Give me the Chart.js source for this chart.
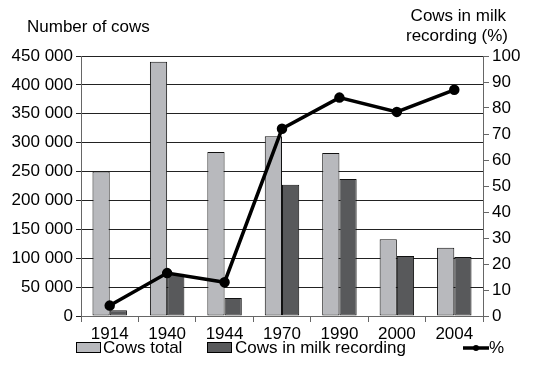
<!DOCTYPE html>
<html>
<head>
<meta charset="utf-8">
<script src="https://cdn.jsdelivr.net/npm/chart.js@4"></script>
<style>
  body { margin: 0; background: #fff; }
  #wrap { width: 545px; height: 387px; }
</style>
</head>
<body>
<div id="wrap"><canvas id="chart" width="545" height="387"></canvas></div>
<script>
// Data
const years = ['1914', '1940', '1944', '1970', '1990', '2000', '2004'];
const cowsTotal = [250000, 440000, 284000, 311000, 282000, 133000, 118000];
const cowsRecorded = [10000, 73000, 31000, 227000, 237000, 104000, 102000];
const percentRecorded = [4, 16.5, 13, 72, 84, 78.5, 87];

const FONT = 'Liberation Sans, Arial, sans-serif';
const FS = 17;

function spaced(v) {
  return String(v).replace(/\B(?=(\d{3})+(?!\d))/g, ' ');
}

// titles and legend drawn by hand
const extras = {
  id: 'extras',
  afterDraw(chart) {
    const ctx = chart.ctx;
    ctx.save();
    ctx.fillStyle = '#000';
    ctx.font = FS + 'px ' + FONT;
    ctx.textBaseline = 'middle';
    ctx.textAlign = 'left';
    ctx.fillText('Number of cows', 27, 27);
    ctx.textAlign = 'right';
    ctx.fillText('Cows in milk', 506, 16);
    ctx.fillText('recording (%)', 508, 36);

    // legend
    const ds = chart.data.datasets;
    const bar1 = ds[1], bar2 = ds[2], line = ds[0];
    const y = 348;
    ctx.textAlign = 'left';
    ctx.lineWidth = 1;
    ctx.strokeStyle = '#000';
    ctx.fillStyle = bar1.backgroundColor;
    ctx.fillRect(76.5, y - 5.5, 24, 10);
    ctx.strokeRect(76.5, y - 5.5, 24, 10);
    ctx.fillStyle = '#000';
    ctx.fillText(bar1.label, 103, y);
    ctx.fillStyle = bar2.backgroundColor;
    ctx.fillRect(207.5, y - 5.5, 24, 10);
    ctx.strokeRect(207.5, y - 5.5, 24, 10);
    ctx.fillStyle = '#000';
    ctx.fillText(bar2.label, 235, y);
    ctx.lineWidth = 3.5;
    ctx.beginPath();
    ctx.moveTo(463, y);
    ctx.lineTo(489, y);
    ctx.stroke();
    ctx.beginPath();
    ctx.arc(476, y, 3, 0, Math.PI * 2);
    ctx.fill();
    ctx.fillText(line.label, 489, y);
    ctx.restore();
  }
};

new Chart(document.getElementById('chart'), {
  data: {
    labels: years,
    datasets: [
      {
        type: 'line',
        label: '%',
        data: percentRecorded,
        yAxisID: 'yPct',
        borderColor: '#000',
        backgroundColor: '#000',
        borderWidth: 3.5,
        pointRadius: 3.5,
        pointBackgroundColor: '#000',
        tension: 0,
        order: 0
      },
      {
        type: 'bar',
        label: 'Cows total',
        data: cowsTotal,
        yAxisID: 'y',
        backgroundColor: '#b8b9bd',
        borderColor: '#111',
        borderWidth: 1,
        borderSkipped: false,
        categoryPercentage: 0.6,
        barPercentage: 1,
        order: 1
      },
      {
        type: 'bar',
        label: 'Cows in milk recording',
        data: cowsRecorded,
        yAxisID: 'y',
        backgroundColor: '#58595b',
        borderColor: '#111',
        borderWidth: 1,
        borderSkipped: false,
        categoryPercentage: 0.6,
        barPercentage: 1,
        order: 1
      }
    ]
  },
  options: {
    responsive: false,
    animation: false,
    layout: { padding: { top: 56, left: 0, right: 0, bottom: 0 } },
    plugins: {
      legend: { display: false },
      tooltip: { enabled: false }
    },
    scales: {
      x: {
        afterFit(s) { s.height = 71; },
        grid: { offset: true, drawOnChartArea: false, color: '#666', tickLength: 6 },
        border: { color: '#666', width: 1 },
        ticks: { color: '#000', font: { family: FONT, size: FS }, padding: 2, maxRotation: 0 }
      },
      y: {
        position: 'left',
        min: 0,
        max: 450000,
        afterFit(s) { s.width = 81; },
        ticks: {
          stepSize: 50000,
          color: '#000',
          font: { family: FONT, size: FS },
          padding: 3,
          callback: v => spaced(v)
        },
        grid: { color: '#222', lineWidth: 1, tickLength: 5 },
        border: { color: '#666', width: 1 }
      },
      yPct: {
        position: 'right',
        min: 0,
        max: 100,
        afterFit(s) { s.width = 62; },
        ticks: { stepSize: 10, color: '#000', font: { family: FONT, size: FS }, padding: 3 },
        grid: { drawOnChartArea: false, color: '#666', tickLength: 6 },
        border: { color: '#666', width: 1 }
      }
    }
  },
  plugins: [extras]
});
</script>
</body>
</html>
